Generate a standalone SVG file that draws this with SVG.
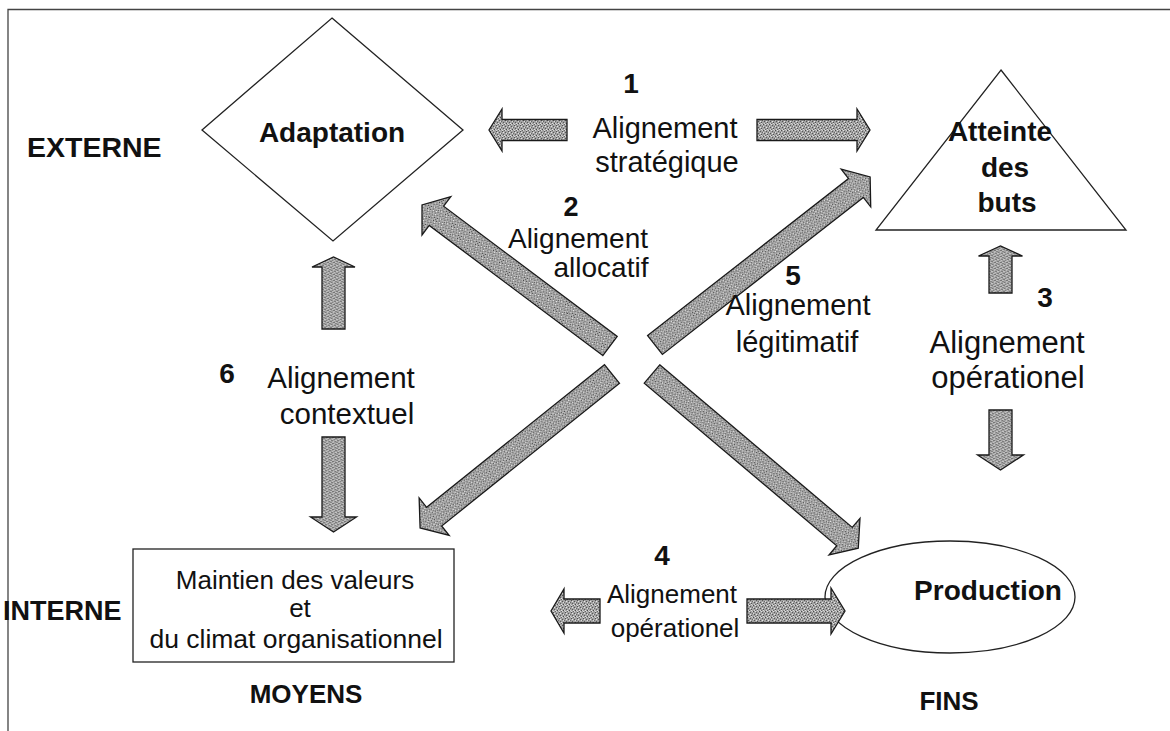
<svg xmlns="http://www.w3.org/2000/svg" width="1170" height="731" viewBox="0 0 1170 731">
<defs>
<pattern id="ht" width="6" height="6" patternUnits="userSpaceOnUse">
<rect width="6" height="6" fill="#a2a2a2"/>
<rect x="0" y="0" width="1" height="1" fill="#4a4a4a"/>
<rect x="3" y="1" width="1" height="1" fill="#5a5a5a"/>
<rect x="1" y="3" width="1" height="1" fill="#555"/>
<rect x="4" y="4" width="1" height="1" fill="#505050"/>
<rect x="5" y="2" width="1" height="1" fill="#6a6a6a"/>
<rect x="2" y="5" width="1" height="1" fill="#666"/>
<rect x="2" y="0" width="1" height="1" fill="#e2e2e2"/>
<rect x="5" y="0" width="1" height="1" fill="#d0d0d0"/>
<rect x="0" y="2" width="1" height="1" fill="#dcdcdc"/>
<rect x="3" y="3" width="1" height="1" fill="#e6e6e6"/>
<rect x="1" y="5" width="1" height="1" fill="#d4d4d4"/>
<rect x="4" y="5" width="1" height="1" fill="#dadada"/>
</pattern>
<style>
text{font-family:"Liberation Sans",Arial,Helvetica,sans-serif;fill:#111}
.b{font-weight:bold}
.shape{fill:#fff;stroke:#222;stroke-width:1.3}
.arr{fill:url(#ht);stroke:#1a1a1a;stroke-width:1.3;stroke-linejoin:miter}
</style>
</defs>
<rect width="1170" height="731" fill="#fff"/>
<path d="M8,731 V9.5 H1170" fill="none" stroke="#444" stroke-width="1.3"/>

<g id="externe"><text class="b" x="27" y="157" font-size="28.5">EXTERNE</text></g>
<g id="interne"><text class="b" x="3" y="620" font-size="27">INTERNE</text></g>
<g id="moyens"><text class="b" x="306" y="703" font-size="26" text-anchor="middle">MOYENS</text></g>
<g id="fins"><text class="b" x="949" y="710" font-size="26" text-anchor="middle">FINS</text></g>

<g id="adaptation">
<polygon class="shape" points="332,18 463,130 333,241 202,130"/>
<text class="b" x="332" y="142" font-size="28" text-anchor="middle">Adaptation</text>
</g>
<g id="atteinte">
<polygon class="shape" points="1001,70 1126,230 876,230"/>
<text class="b" x="1000" y="141" font-size="28" text-anchor="middle">Atteinte</text>
<text class="b" x="1005" y="177" font-size="28" text-anchor="middle">des</text>
<text class="b" x="1007" y="212" font-size="28" text-anchor="middle">buts</text>
</g>
<g id="maintien">
<rect class="shape" x="133" y="549" width="321" height="113"/>
<text x="295" y="589" font-size="26" text-anchor="middle">Maintien des valeurs</text>
<text x="300" y="617" font-size="26" text-anchor="middle">et</text>
<text x="296" y="648" font-size="26.5" text-anchor="middle">du climat organisationnel</text>
</g>
<g id="production">
<ellipse class="shape" cx="950" cy="597" rx="125" ry="56"/>
<text class="b" x="988" y="600" font-size="28" text-anchor="middle">Production</text>
</g>

<g id="connectors">
<polygon class="arr" transform="translate(567,130) rotate(180)" points="0,-10.5 65,-10.5 65,-21 78,0 65,21 65,10.5 0,10.5"/>
<polygon class="arr" transform="translate(757,130)" points="0,-10.5 100,-10.5 100,-21 113,0 100,21 100,10.5 0,10.5"/>
<polygon class="arr" transform="translate(1000.5,293) rotate(-90)" points="0,-11.5 37,-11.5 37,-22 47,0 37,22 37,11.5 0,11.5"/>
<polygon class="arr" transform="translate(1000.5,410) rotate(90)" points="0,-11.5 45,-11.5 45,-23 60,0 45,23 45,11.5 0,11.5"/>
<polygon class="arr" transform="translate(333.5,329) rotate(-90)" points="0,-11.5 62,-11.5 62,-21.5 72,0 62,21.5 62,11.5 0,11.5"/>
<polygon class="arr" transform="translate(333.5,437) rotate(90)" points="0,-11.5 80,-11.5 80,-23 95,0 80,23 80,11.5 0,11.5"/>
<polygon class="arr" transform="translate(600,611) rotate(180)" points="0,-12 36,-12 36,-22 49,0 36,22 36,12 0,12"/>
<polygon class="arr" transform="translate(747,611)" points="0,-12 84,-12 84,-23 98,0 84,23 84,12 0,12"/>
<polygon class="arr" transform="translate(610,346) rotate(-143.13)" points="0,-12 217,-12 217,-24 235,0 217,24 217,12 0,12"/>
<polygon class="arr" transform="translate(655,345) rotate(-38)" points="0,-12 255,-12 255,-24 273,0 255,24 255,12 0,12"/>
<polygon class="arr" transform="translate(612,374) rotate(141.27)" points="0,-12 228,-12 228,-24 246,0 228,24 228,12 0,12"/>
<polygon class="arr" transform="translate(652,374) rotate(40.19)" points="0,-12 252,-12 252,-24 270,0 252,24 252,12 0,12"/>
</g>

<g id="label1">
<text class="b" x="631" y="93" font-size="28" text-anchor="middle">1</text>
<text x="665" y="138" font-size="29" text-anchor="middle">Alignement</text>
<text x="667" y="172" font-size="29" text-anchor="middle">stratégique</text>
</g>
<g id="label2">
<text class="b" x="571" y="216" font-size="27" text-anchor="middle">2</text>
<text x="578" y="248" font-size="28" text-anchor="middle">Alignement</text>
<text x="601" y="277" font-size="28" text-anchor="middle">allocatif</text>
</g>
<g id="label5">
<text class="b" x="793" y="285" font-size="28" text-anchor="middle">5</text>
<text x="798" y="315" font-size="29" text-anchor="middle">Alignement</text>
<text x="797" y="352" font-size="29" text-anchor="middle">légitimatif</text>
</g>
<g id="label3">
<text class="b" x="1045" y="307" font-size="28" text-anchor="middle">3</text>
<text x="1007" y="353" font-size="31" text-anchor="middle">Alignement</text>
<text x="1008" y="388" font-size="31" text-anchor="middle">opérationel</text>
</g>
<g id="label6">
<text class="b" x="227" y="383" font-size="28" text-anchor="middle">6</text>
<text x="341" y="388" font-size="29.5" text-anchor="middle">Alignement</text>
<text x="347" y="424" font-size="29.5" text-anchor="middle">contextuel</text>
</g>
<g id="label4">
<text class="b" x="662" y="565" font-size="28" text-anchor="middle">4</text>
<text x="672" y="603" font-size="26" text-anchor="middle">Alignement</text>
<text x="675" y="637" font-size="26" text-anchor="middle">opérationel</text>
</g>
</svg>
